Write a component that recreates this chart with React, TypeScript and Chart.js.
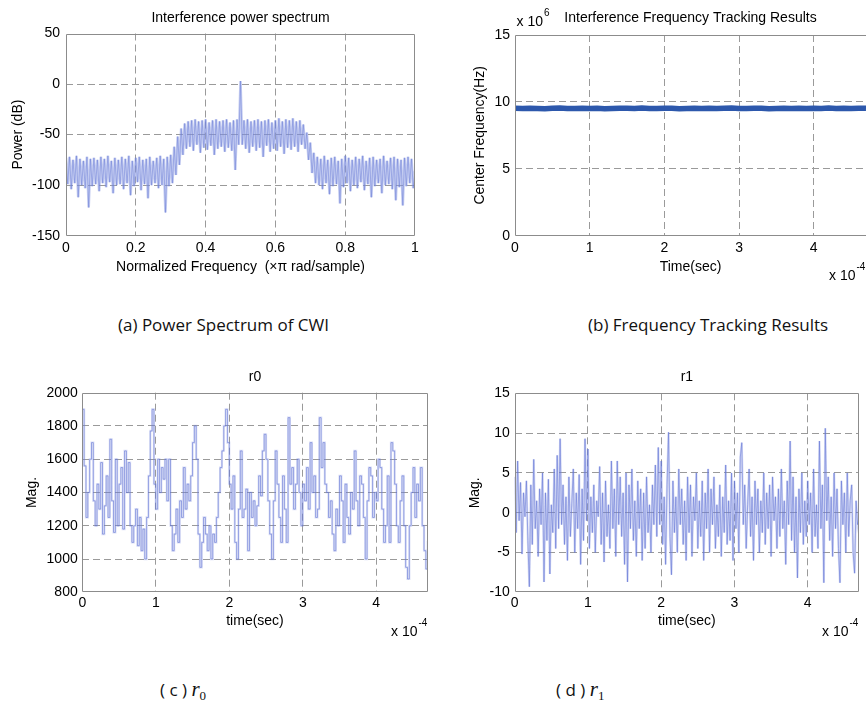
import React, { useEffect, useRef } from "react";
import { Chart, registerables } from "chart.js";

Chart.register(...registerables);

const FONT = '"Liberation Sans", Arial, Helvetica, sans-serif';
const GRID_COLOR = "#9a9a9a";
const BOX_COLOR = "#8c8c8c";

// ---------- (a) Interference power spectrum ----------
const SPEC_FREQ_MAX = 1; // normalized frequency (x pi rad/sample)
const SPEC_X_TICKS = [0, 0.2, 0.4, 0.6, 0.8, 1];
const SPEC_Y_TICKS = [-150, -100, -50, 0, 50];
const SPEC_POWER_DB = [
  -73, -99, -72, -104, -75, -98, -71, -112, -74, -100,
  -76, -103, -72, -122, -74, -101, -73, -99, -75, -106,
  -72, -98, -74, -102, -71, -97, -76, -108, -73, -100,
  -75, -99, -72, -104, -74, -98, -71, -110, -76, -101,
  -73, -97, -72, -105, -75, -99, -74, -113, -72, -100,
  -76, -98, -73, -103, -71, -100, -74, -127, -72, -101,
  -70, -98, -62, -90, -52, -80, -44, -70, -39, -64,
  -37, -62, -36, -66, -35, -60, -37, -68, -36, -63,
  -35, -65, -38, -61, -36, -70, -35, -64, -37, -62,
  -36, -67, -35, -63, -38, -66, -36, -85, -35, -60,
  3,
  -60, -36, -64, -35, -68, -37, -62, -36, -66,
  -35, -63, -37, -72, -36, -61, -35, -67, -38, -64,
  -36, -66, -34, -62, -37, -69, -35, -63, -36, -65,
  -34, -62, -37, -67, -36, -60,
  -40, -64, -48, -75, -58, -88, -68, -98,
  -72, -100, -74, -104, -71, -98, -75, -109, -73, -101,
  -72, -99, -76, -118, -74, -102, -71, -98, -73, -106,
  -75, -100, -72, -103, -74, -97, -71, -105, -76, -99,
  -73, -112, -72, -101, -75, -98, -74, -108, -71, -100,
  -76, -99, -73, -104, -72, -115, -74, -102, -75, -120,
  -73, -101, -72, -98, -74, -103, -86,
];

// ---------- (b) Frequency tracking ----------
const TIME_MAX = 4.7; // x 1e-4 s
const TIME_TICKS = [0, 1, 2, 3, 4];
const TRACK_STEP = 0.1; // x 1e-4 s
const TRACK_Y_TICKS = [0, 5, 10, 15];
const TRACK_FREQ_MHZ = [
  9.52, 9.5, 9.53, 9.51, 9.49, 9.52, 9.54, 9.5, 9.51, 9.53,
  9.5, 9.52, 9.49, 9.51, 9.53, 9.52, 9.5, 9.54, 9.51, 9.5,
  9.52, 9.53, 9.49, 9.51, 9.52, 9.5, 9.53, 9.51, 9.52, 9.54,
  9.5, 9.51, 9.53, 9.52, 9.49, 9.5, 9.52, 9.51, 9.53, 9.5,
  9.52, 9.51, 9.54, 9.5, 9.52, 9.51, 9.53, 9.52,
];

// ---------- (c) r0 ----------
const R0_STEP = 0.025; // x 1e-4 s
const R0_Y_TICKS = [800, 1000, 1200, 1400, 1600, 1800, 2000];
const R0_MAG = [
  1900, 1560, 1250, 1400, 1600, 1700, 1350, 1200, 1450, 1300, 1580, 1150,
  1320, 1500, 1250, 1720, 1350, 1160, 1600, 1200, 1450, 1550, 1180, 1650,
  1400, 1580, 1200, 1100, 1200, 1300, 1080, 1250, 1050, 1180, 1000, 1250,
  1500, 1770, 1900, 1450, 1300, 1600, 1400, 1550, 1480, 1600, 1350, 1600,
  1200, 1050, 1150, 1300, 1100, 1350, 1250, 1550, 1300, 1450, 1350, 1500,
  1700, 1800, 1600, 1150, 950, 1100, 1250, 1150, 1050, 1200, 1000, 1150,
  1100, 1250, 1400, 1550, 1650, 1800, 1900, 1700, 1450, 1300, 1500, 1100,
  1000, 1300, 1650, 1250, 1300, 1420, 1050, 1400, 1250, 1350, 1200, 1320,
  1500, 1380, 1650, 1750, 1600, 1350, 1150, 1000, 1350, 1650, 1450, 1250,
  1100, 1500, 1300, 1100, 1850, 1450, 1550, 1300, 1450, 1600, 1400, 1200,
  1450, 1350, 1550, 1300, 1700, 1400, 1500, 1250, 1300, 1850, 1550, 1700,
  1450, 1400, 1250, 1350, 1150, 1050, 1300, 1200, 1500, 1350, 1100, 1450,
  1250, 1150, 1400, 1300, 1650, 1350, 1200, 1500, 1450, 1250, 1000, 1350,
  1550, 1500, 1250, 1400, 1350, 1600, 1550, 1300, 1100, 1200, 1500, 1100,
  1700, 1650, 1450, 1200, 1100, 1350, 1500, 1200, 950, 880, 1200, 1400,
  1550, 1250, 1450, 1350, 1550, 1200, 1050, 940, 1110,
];

// ---------- (d) r1 ----------
const R1_STEP = 0.02; // x 1e-4 s
const R1_Y_TICKS = [-10, -5, 0, 5, 10, 15];
const R1_MAG = [
  4.5, -2.5, 6.5, -1.0, 3.8, -5.2, 2.5, -0.5, 4.0, -3.5,
  -9.3, 3.5, -4.0, 6.7, -2.0, 1.5, -5.5, 3.0, -1.5, 5.0,
  -8.7, 2.5, -3.5, 4.2, -7.7, 1.0, -2.5, 5.5, -4.5, 7.2,
  -2.0, 9.3, -1.5, 3.5, -4.0, 2.0, -6.0, 4.5, -3.0, 1.2,
  5.5, -5.0, 2.5, -2.0, 4.8, -6.5, 3.0, -3.5, 9.3, -1.0,
  8.0, -4.5, 2.0, -2.5, 3.5, -5.0, 1.5, -0.5, 5.8, -4.0,
  2.5, -6.2, 4.0, -3.0, 1.0, -4.5, 6.5, -2.0, 3.0, -5.5,
  6.5, -1.5, 4.5, -3.0, 2.5, -6.5, 5.0, -8.7, 3.5, -2.0,
  5.5, -3.5, 1.5, -5.5, 4.0, -2.0, 3.0, -6.0, 2.5, -4.5,
  4.5, -2.5, 1.0, -5.0, 3.5, -1.5, 6.0, -3.0, 8.2, -1.5,
  6.5, -4.0, 2.0, -6.5, 3.5, 10.1, -3.0, -7.8, 4.0, -2.5,
  2.0, -5.0, 5.5, -1.5, 3.0, -4.0, 1.5, -6.0, 4.5, -2.5,
  3.5, -5.5, 2.0, -1.0, 5.0, -4.5, 1.5, -3.0, 4.0, -6.0,
  2.5, -2.0, 5.5, -5.0, 3.0, -1.5, 4.5, -4.5, 1.0, -3.0,
  3.5, -5.5, 2.0, -2.5, 6.0, -4.0, 1.5, -3.5, 5.0, -6.0,
  4.0, -2.0, 2.5, -5.0, 7.0, 8.8, -1.5, 3.5, -4.5, 1.0,
  5.5, -3.0, 2.0, -6.0, 4.0, -1.5, 3.0, -5.0, 1.5, -2.5,
  5.0, -4.0, 2.5, -2.0, 3.5, -5.5, 4.5, -1.0, 2.0, -4.5,
  3.0, -3.0, 5.5, -2.0, 1.5, -6.5, 4.0, -1.5, 9.0, -3.5,
  4.5, -5.0, 2.0, -8.2, 3.0, -2.5, 5.0, -4.0, 1.5, -3.0,
  4.0, -1.5, 2.5, -5.0, 5.5, -3.0, 1.0, -4.5, 9.0, -2.0,
  3.5, -8.8, 10.6, -1.0, 4.5, -3.5, 2.0, -5.5, 5.0, -2.0,
  3.0, -4.5, -8.8, 4.0, -1.5, 2.5, -5.0, 5.0, -3.0, 1.5,
  3.5, -5.0, -7.6, 1.5, -1.5, -0.5,
];

// ---------- plugins ----------
const boxPlugin = {
  id: "axisBox",
  afterDatasetsDraw(chart: any, _a: any, opts: any) {
    const { ctx, chartArea: a } = chart;
    const l = Math.round(a.left) + 0.5;
    const r = Math.round(a.right) - 0.5;
    const t = Math.round(a.top) + 0.5;
    const b = Math.round(a.bottom) - 0.5;
    ctx.save();
    ctx.strokeStyle = BOX_COLOR;
    ctx.lineWidth = 1;
    ctx.setLineDash([]);
    ctx.beginPath();
    if (opts && opts.noRight) {
      ctx.moveTo(r + 2, t);
      ctx.lineTo(l, t);
      ctx.lineTo(l, b);
      ctx.lineTo(r + 2, b);
    } else {
      ctx.rect(l, t, r - l, b - t);
    }
    ctx.stroke();
    ctx.restore();
  },
};

const extraTextPlugin = {
  id: "extraText",
  afterDraw(chart: any, _a: any, opts: any) {
    const items = (opts && opts.items) || [];
    const ctx = chart.ctx;
    ctx.save();
    ctx.fillStyle = "#000";
    ctx.textBaseline = "middle";
    ctx.textAlign = "left";
    for (const it of items) {
      ctx.font = `${it.size}px ${FONT}`;
      ctx.fillText(it.text, it.x, it.y);
      if (it.sup) {
        const w = ctx.measureText(it.text).width;
        ctx.font = `${it.supSize}px ${FONT}`;
        ctx.fillText(it.sup, it.x + w + 1, it.y - it.supRise);
      }
    }
    ctx.restore();
  },
};

// ---------- helpers ----------
const TICK_SIZE = 14;
const LABEL_SIZE = 14;

function scaleCfg(p: {
  min: number;
  max: number;
  ticks: number[];
  pad: number;
  size: number;
  horizontal: boolean;
  title: string;
  titlePad: any;
}) {
  return {
    type: "linear",
    min: p.min,
    max: p.max,
    afterBuildTicks: (s: any) => {
      s.ticks = p.ticks.map((v) => ({ value: v }));
    },
    afterFit: (s: any) => {
      if (p.horizontal) s.height = p.size;
      else s.width = p.size;
    },
    ticks: {
      padding: p.pad,
      color: "#000",
      font: { family: FONT, size: TICK_SIZE },
      autoSkip: false,
      maxRotation: 0,
      callback: (v: any) => String(v),
    },
    grid: {
      drawTicks: false,
      lineWidth: 1,
      color: (ctx: any) =>
        ctx.tick && (ctx.tick.value === p.min || ctx.tick.value === p.max)
          ? "rgba(0,0,0,0)"
          : GRID_COLOR,
    },
    border: { display: false, dash: [7, 4] },
    title: {
      display: true,
      text: p.title,
      color: "#000",
      font: { family: FONT, size: LABEL_SIZE },
      padding: p.titlePad,
    },
  };
}

function lineDataset(points: { x: number; y: number }[], color: string, width: number, stepped = false) {
  return {
    data: points,
    borderColor: color,
    borderWidth: width,
    pointRadius: 0,
    fill: false,
    tension: 0,
    stepped,
  };
}

function baseOptions(p: {
  title: string;
  titlePad: any;
  layoutPad: any;
  x: any;
  y: any;
  noRight?: boolean;
  texts?: any[];
}) {
  return {
    animation: false,
    responsive: false,
    maintainAspectRatio: false,
    events: [],
    layout: { padding: p.layoutPad },
    scales: { x: p.x, y: p.y },
    plugins: {
      legend: { display: false },
      tooltip: { enabled: false },
      title: {
        display: true,
        text: p.title,
        fullSize: false,
        color: "#000",
        font: { family: FONT, size: LABEL_SIZE, weight: "normal" },
        padding: p.titlePad,
      },
      axisBox: { noRight: !!p.noRight },
      extraText: { items: p.texts || [] },
    },
  };
}

// light wide underlay + thin darker trace, both drawn from the same series
const UNDER = "rgba(140,155,228,0.5)";
const TRACE = "rgba(70,90,200,0.6)";

// ---------- chart builders ----------
function buildSpectrum() {
  const pts = SPEC_POWER_DB.map((y, i) => ({ x: (i * SPEC_FREQ_MAX) / (SPEC_POWER_DB.length - 1), y }));
  return {
    type: "line",
    data: { datasets: [lineDataset(pts, UNDER, 2.6), lineDataset(pts, TRACE, 0.8)] },
    options: baseOptions({
      title: "Interference power spectrum",
      titlePad: { top: 9.9, bottom: 6.8 },
      layoutPad: { left: 0, top: 0, right: 18, bottom: 9.3 },
      x: scaleCfg({ min: 0, max: SPEC_FREQ_MAX, ticks: SPEC_X_TICKS, pad: 4.2, size: 45, horizontal: true, title: "Normalized Frequency  (\u00d7\u03c0 rad/sample)", titlePad: { top: 0, bottom: 5.6 } }),
      y: scaleCfg({ min: -150, max: 50, ticks: SPEC_Y_TICKS, pad: 6, size: 66, horizontal: false, title: "Power (dB)", titlePad: { top: 9.9, bottom: 0 } }),
    }),
    plugins: [boxPlugin, extraTextPlugin],
  };
}

function buildTracking() {
  const pts = TRACK_FREQ_MHZ.map((y, i) => ({ x: i * TRACK_STEP, y }));
  return {
    type: "line",
    data: { datasets: [lineDataset(pts, "#2d58ac", 5.5)] },
    options: baseOptions({
      title: "Interference Frequency Tracking Results",
      titlePad: { top: 9.9, bottom: 8.3 },
      layoutPad: { left: 0, top: 0, right: 0, bottom: 9.3 },
      noRight: true,
      x: scaleCfg({ min: 0, max: TIME_MAX, ticks: TIME_TICKS, pad: 4.2, size: 45, horizontal: true, title: "Time(sec)", titlePad: { top: 0, bottom: 5.6 } }),
      y: scaleCfg({ min: 0, max: 15, ticks: TRACK_Y_TICKS, pad: 5, size: 82, horizontal: false, title: "Center Frequency(Hz)", titlePad: { top: 38.3, bottom: 0 } }),
      texts: [
        { text: "x 10", x: 83.5, y: 22, size: 14, sup: "6", supSize: 10, supRise: 9 },
        { text: "x 10", x: 396, y: 276, size: 14, sup: "-4", supSize: 10, supRise: 9 },
      ],
    }),
    plugins: [boxPlugin, extraTextPlugin],
  };
}

function buildR0() {
  const pts = R0_MAG.map((y, i) => ({ x: i * R0_STEP, y }));
  return {
    type: "line",
    data: { datasets: [lineDataset(pts, "rgba(135,150,225,0.3)", 2.2, true), lineDataset(pts, "rgba(75,95,205,0.62)", 0.9, true)] },
    options: baseOptions({
      title: "r0",
      titlePad: { top: 8.3, bottom: 7.6 },
      layoutPad: { left: 0, top: 0, right: 5.3, bottom: 12.7 },
      x: scaleCfg({ min: 0, max: TIME_MAX, ticks: TIME_TICKS, pad: 2.6, size: 45, horizontal: true, title: "time(sec)", titlePad: { top: 0, bottom: 7.9 } }),
      y: scaleCfg({ min: 800, max: 2000, ticks: R0_Y_TICKS, pad: 4.6, size: 82.3, horizontal: false, title: "Mag.", titlePad: { top: 24.1, bottom: 0 } }),
      texts: [{ text: "x 10", x: 391, y: 272, size: 14, sup: "-4", supSize: 10, supRise: 9 }],
    }),
    plugins: [boxPlugin, extraTextPlugin],
  };
}

function buildR1() {
  const pts = R1_MAG.map((y, i) => ({ x: i * R1_STEP, y }));
  return {
    type: "line",
    data: { datasets: [lineDataset(pts, "rgba(135,150,225,0.35)", 2.2), lineDataset(pts, "rgba(75,95,205,0.6)", 0.9)] },
    options: baseOptions({
      title: "r1",
      titlePad: { top: 8.6, bottom: 7.9 },
      layoutPad: { left: 0, top: 0, right: 7, bottom: 12.7 },
      x: scaleCfg({ min: 0, max: TIME_MAX, ticks: TIME_TICKS, pad: 2.6, size: 45, horizontal: true, title: "time(sec)", titlePad: { top: 0, bottom: 7.9 } }),
      y: scaleCfg({ min: -10, max: 15, ticks: R1_Y_TICKS, pad: 5, size: 81.7, horizontal: false, title: "Mag.", titlePad: { top: 34.1, bottom: 0 } }),
      texts: [{ text: "x 10", x: 389, y: 272, size: 14, sup: "-4", supSize: 10, supRise: 9 }],
    }),
    plugins: [boxPlugin, extraTextPlugin],
  };
}

function ChartBox(props: { left: number; top: number; width: number; height: number; build: () => any }) {
  const ref = useRef<HTMLCanvasElement>(null);
  useEffect(() => {
    const chart = new Chart(ref.current as HTMLCanvasElement, props.build());
    return () => chart.destroy();
  }, []);
  return (
    <canvas
      ref={ref}
      width={props.width}
      height={props.height}
      style={{ position: "absolute", left: props.left, top: props.top, width: props.width, height: props.height }}
    />
  );
}

const capStyle: React.CSSProperties = {
  position: "absolute",
  fontFamily: '"Open Sans", "Noto Sans", sans-serif',
  fontSize: 17,
  lineHeight: "22px",
  whiteSpace: "nowrap",
  color: "#111",
};

const serifStyle: React.CSSProperties = {
  fontFamily: '"Liberation Serif", "DejaVu Serif", serif',
  fontStyle: "italic",
  fontSize: 21,
};

export default function App() {
  return (
    <div style={{ position: "fixed", left: 0, top: 0, width: 866, height: 712, background: "#fff", overflow: "hidden" }}>
      <ChartBox left={0} top={0} width={433} height={290} build={buildSpectrum} />
      <ChartBox left={433} top={0} width={433} height={290} build={buildTracking} />
      <ChartBox left={0} top={360} width={433} height={290} build={buildR0} />
      <ChartBox left={433} top={360} width={433} height={290} build={buildR1} />
      <div style={{ ...capStyle, left: 118, top: 314 }}>(a) Power Spectrum of CWI</div>
      <div style={{ ...capStyle, left: 588, top: 314 }}>(b) Frequency Tracking Results</div>
      <div style={{ ...capStyle, left: 160, top: 678 }}>
        ( c )&nbsp;
        <span style={serifStyle}>r</span>
        <sub style={{ fontFamily: '"Liberation Serif", serif', fontSize: 13 }}>0</sub>
      </div>
      <div style={{ ...capStyle, left: 556, top: 678 }}>
        ( d )&nbsp;
        <span style={serifStyle}>r</span>
        <sub style={{ fontFamily: '"Liberation Serif", serif', fontSize: 13 }}>1</sub>
      </div>
    </div>
  );
}
